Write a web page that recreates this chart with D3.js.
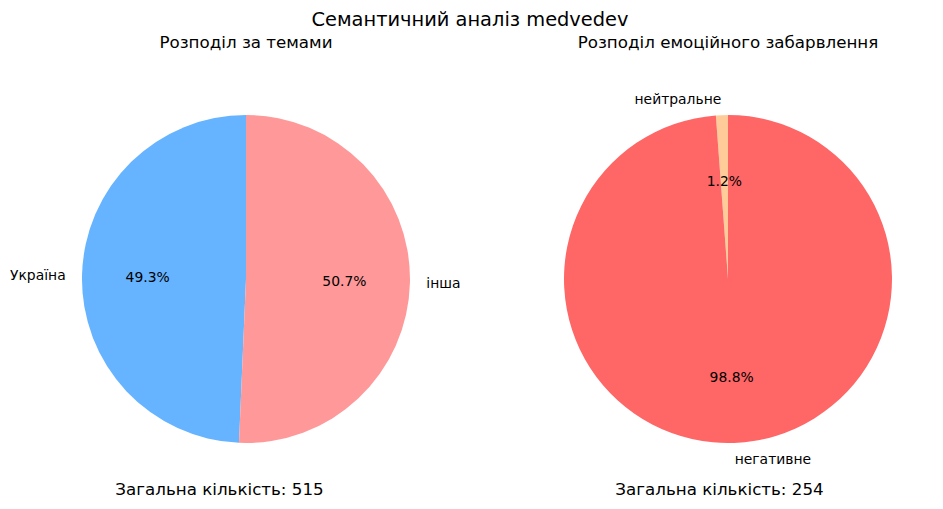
<!DOCTYPE html>
<html><head><meta charset="utf-8">
<script src="https://cdn.jsdelivr.net/npm/d3@7"></script>
<style>body{margin:0;background:#fff}svg{display:block}text{font-family:"DejaVu Sans",sans-serif;fill:#000}</style>
</head><body>
<svg id="c" width="943" height="509"></svg>
<script>
const mainTitle = "Семантичний аналіз medvedev";
const topicTitle = "Розподіл за темами";
const topicLabels = ["Україна", "інша"];
const topicValues = [254, 261];
const topicColors = ["#66b3ff", "#ff9999"];
const emoTitle = "Розподіл емоційного забарвлення";
const emoLabels = ["нейтральне", "негативне"];
const emoValues = [3, 251];
const emoColors = ["#ffcc99", "#ff6666"];
const totalPrefix = "Загальна кількість: ";

const svg = d3.select("#c");
svg.append("text").attr("x", 470).attr("y", 26).attr("text-anchor", "middle")
  .style("font-size", "19.4px").text(mainTitle);

function drawPie(cx, cy, r, title, labels, values, colors, totalX) {
  const g = svg.append("g");
  g.append("text").attr("x", cx).attr("y", 48).attr("text-anchor", "middle")
    .style("font-size", "16.7px").text(title);
  const total = d3.sum(values);
  // matplotlib: startangle 90, counterclockwise
  const pie = d3.pie().sort(null).value(d => d)
    .startAngle(0).endAngle(-2 * Math.PI);
  const arcs = pie(values);
  const arc = d3.arc().innerRadius(0).outerRadius(r);
  const gp = g.append("g").attr("transform", `translate(${cx},${cy})`);
  gp.selectAll("path").data(arcs).enter().append("path")
    .attr("d", arc).attr("fill", (d, i) => colors[i]);
  arcs.forEach((d, i) => {
    const mid = (d.startAngle + d.endAngle) / 2;
    const sx = Math.sin(mid), sy = -Math.cos(mid);
    const lx = 1.1 * r * sx, ly = 1.1 * r * sy;
    gp.append("text").attr("x", lx).attr("y", ly).attr("dy", "0.35em")
      .attr("text-anchor", lx > 0 ? "start" : "end")
      .style("font-size", "13.9px").text(labels[i]);
    const px = 0.6 * r * sx, py = 0.6 * r * sy;
    gp.append("text").attr("x", px).attr("y", py).attr("dy", "0.35em")
      .attr("text-anchor", "middle").style("font-size", "13.9px")
      .text((values[i] / total * 100).toFixed(1) + "%");
  });
  g.append("text").attr("x", totalX).attr("y", 495).attr("text-anchor", "middle")
    .style("font-size", "16.7px").text(totalPrefix + total);
}

drawPie(246, 279, 164, topicTitle, topicLabels, topicValues, topicColors, 219.5);
drawPie(728, 279, 164, emoTitle, emoLabels, emoValues, emoColors, 719.5);
</script>
</body></html>
